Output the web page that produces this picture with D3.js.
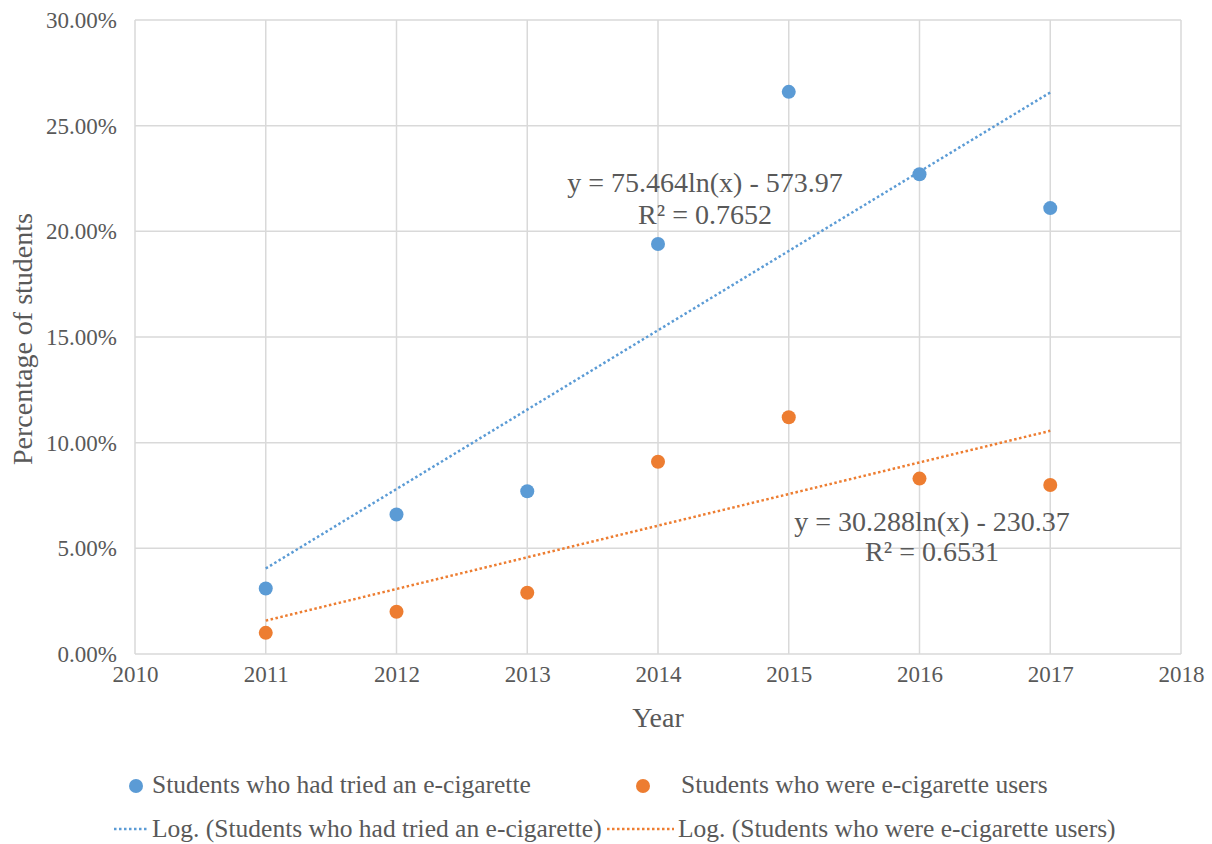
<!DOCTYPE html>
<html>
<head>
<meta charset="utf-8">
<script src="https://cdn.jsdelivr.net/npm/d3@7"></script>
<style>
  html, body { margin: 0; padding: 0; background: #fff; }
  svg { display: block; font-family: "Liberation Serif", "Times New Roman", serif; }
</style>
</head>
<body>
<svg id="chart" width="1212" height="844"></svg>
<script>
// Survey years and percentages of students
const years = [2011, 2012, 2013, 2014, 2015, 2016, 2017];
const triedValues = [3.1, 6.6, 7.7, 19.4, 26.6, 22.7, 21.1];
const userValues = [1.0, 2.0, 2.9, 9.1, 11.2, 8.3, 8.0];
const xTicks = [2010, 2011, 2012, 2013, 2014, 2015, 2016, 2017, 2018];
const yTicks = [0, 5, 10, 15, 20, 25, 30];
const seriesNames = ["Students who had tried an e-cigarette", "Students who were e-cigarette users"];
const trendNames = ["Log. (Students who had tried an e-cigarette)", "Log. (Students who were e-cigarette users)"];
const equationLines = [
  ["y = 75.464ln(x) - 573.97", "R\u00B2 = 0.7652"],
  ["y = 30.288ln(x) - 230.37", "R\u00B2 = 0.6531"]
];

const colors = ["#5B9BD5", "#ED7D31"];
const textColor = "#595959";
const svg = d3.select("#chart");
const margin = { left: 135, right: 1181, top: 20, bottom: 654 };

const x = d3.scaleLinear().domain([2010, 2018]).range([margin.left, margin.right]);
const y = d3.scaleLinear().domain([0, 30]).range([margin.bottom, margin.top]);

// Gridlines
svg.append("g").selectAll("line").data(yTicks).join("line")
  .attr("x1", margin.left).attr("x2", margin.right)
  .attr("y1", d => y(d)).attr("y2", d => y(d))
  .attr("stroke", "#D9D9D9").attr("stroke-width", 1.5);
svg.append("g").selectAll("line").data(xTicks).join("line")
  .attr("y1", margin.top).attr("y2", margin.bottom)
  .attr("x1", d => x(d)).attr("x2", d => x(d))
  .attr("stroke", "#D9D9D9").attr("stroke-width", 1.5);

// Axes (labels only, lines come from the grid)
const yAxis = svg.append("g").attr("transform", `translate(${margin.left},0)`)
  .call(d3.axisLeft(y).tickValues(yTicks).tickFormat(d => d.toFixed(2) + "%").tickSize(0).tickPadding(18));
const xAxis = svg.append("g").attr("transform", `translate(0,${margin.bottom})`)
  .call(d3.axisBottom(x).tickValues(xTicks).tickFormat(d3.format("d")).tickSize(0).tickPadding(12));
[yAxis, xAxis].forEach(g => {
  g.select(".domain").remove();
  g.selectAll("text").attr("font-family", "Liberation Serif, serif").attr("font-size", 23).attr("fill", textColor);
});

// Axis titles
svg.append("text").attr("x", x(2014)).attr("y", 727).attr("text-anchor", "middle")
  .attr("font-size", 28).attr("fill", textColor).text("Year");
svg.append("text").attr("transform", `translate(32,${(margin.top + margin.bottom) / 2 + 2}) rotate(-90)`)
  .attr("text-anchor", "middle").attr("font-size", 28).attr("fill", textColor).text("Percentage of students");

// Logarithmic least-squares trend: y = a ln(x) + b
function logFit(xs, ys) {
  const lx = xs.map(Math.log);
  const mx = d3.mean(lx), my = d3.mean(ys);
  const a = d3.sum(lx, (v, i) => (v - mx) * (ys[i] - my)) / d3.sum(lx, v => (v - mx) ** 2);
  return { a, b: my - a * mx };
}
const series = [triedValues, userValues];
series.forEach((vals, i) => {
  const fit = logFit(years, vals);
  const pts = d3.range(2011, 2017.0001, 0.05).map(t => [t, fit.a * Math.log(t) + fit.b]);
  svg.append("path").datum(pts)
    .attr("d", d3.line().x(d => x(d[0])).y(d => y(d[1])))
    .attr("fill", "none").attr("stroke", colors[i]).attr("stroke-width", 2.5)
    .attr("stroke-dasharray", "2.5,2.5");
});

// Points
series.forEach((vals, i) => {
  svg.append("g").selectAll("circle").data(vals).join("circle")
    .attr("cx", (d, j) => x(years[j])).attr("cy", d => y(d)).attr("r", 7)
    .attr("fill", colors[i]);
});

// Trend equations
const eqPos = [[705, 192, 32], [932, 531, 30]];
equationLines.forEach((lines, i) => {
  const t = svg.append("text").attr("text-anchor", "middle").attr("font-size", 28).attr("fill", textColor);
  lines.forEach((ln, k) => {
    t.append("tspan").attr("x", eqPos[i][0]).attr("y", eqPos[i][1] + k * eqPos[i][2]).text(ln);
  });
});

// Legend
const legend = svg.append("g").attr("font-size", 25.5).attr("fill", textColor);
const legendCols = [[136, 152], [643, 681]];
seriesNames.forEach((name, i) => {
  legend.append("circle").attr("cx", legendCols[i][0]).attr("cy", 786).attr("r", 7).attr("fill", colors[i]);
  legend.append("text").attr("x", legendCols[i][1]).attr("y", 793).attr("fill", textColor).text(name);
});
const trendSample = [[114, 148], [607, 674]];
trendNames.forEach((name, i) => {
  legend.append("line").attr("x1", trendSample[i][0]).attr("x2", trendSample[i][1])
    .attr("y1", 829).attr("y2", 829).attr("stroke", colors[i]).attr("stroke-width", 2.5)
    .attr("stroke-dasharray", "2.5,2.5");
  legend.append("text").attr("x", trendSample[i][1] + 4).attr("y", 837).attr("fill", textColor).text(name);
});
</script>
</body>
</html>
